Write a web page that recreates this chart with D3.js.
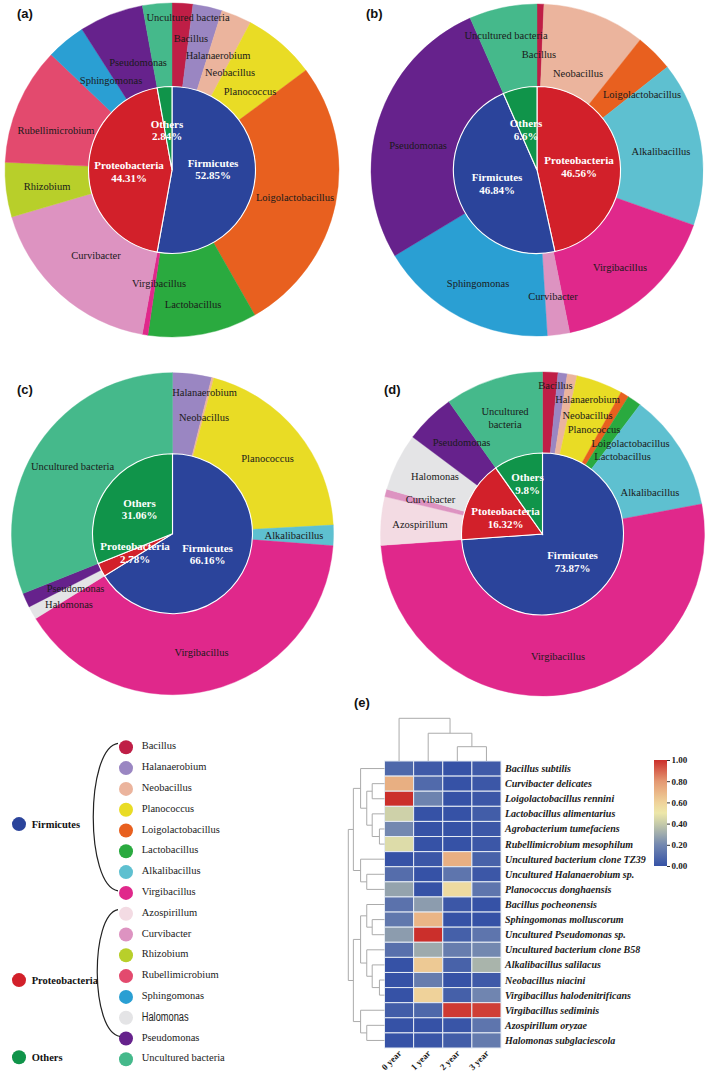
<!DOCTYPE html>
<html><head><meta charset="utf-8">
<script src="https://cdn.jsdelivr.net/npm/d3@7"></script>
<style>body{margin:0;background:#fff} svg{display:block}</style>
</head><body>
<svg id="chart" width="709" height="1079"></svg>
<script>
// ================= DATA =================
const phyla = ["Firmicutes", "Proteobacteria", "Others"];
const phylaColors = ["#2b449b", "#d2202a", "#10944a"];
const genera = ["Bacillus","Halanaerobium","Neobacillus","Planococcus","Loigolactobacillus","Lactobacillus","Alkalibacillus","Virgibacillus","Azospirillum","Curvibacter","Rhizobium","Rubellimicrobium","Sphingomonas","Halomonas","Pseudomonas","Uncultured bacteria"];
const generaPhylum = [0,0,0,0,0,0,0,0,1,1,1,1,1,1,1,2];
const generaColors = ["#bf1e46","#9a86c2","#ebb49d","#e9dc25","#e8601f","#2aaa3f","#5ec0d0","#e0288b","#f3dbe3","#dd93c1","#b8cf2a","#e34a6e","#2a9fd3","#e4e4e6","#66228c","#45b98b"];

// panel (a)
const aInnerNames = ["Firmicutes","Proteobacteria","Others"];
const aInnerValues = [52.85, 44.31, 2.84];
const aOuterNames = ["Bacillus","Halanaerobium","Neobacillus","Planococcus","Loigolactobacillus","Lactobacillus","Virgibacillus","Curvibacter","Rhizobium","Rubellimicrobium","Sphingomonas","Pseudomonas","Uncultured bacteria"];
const aOuterValues = [2.01, 2.83, 2.94, 7.03, 26.94, 10.56, 0.54, 17.61, 5.28, 11.39, 3.81, 6.22, 2.84];

// panel (b)
const bInnerNames = ["Proteobacteria","Firmicutes","Others"];
const bInnerValues = [46.56, 46.84, 6.6];
const bOuterNames = ["Bacillus","Neobacillus","Loigolactobacillus","Alkalibacillus","Virgibacillus","Curvibacter","Sphingomonas","Pseudomonas","Uncultured bacteria"];
const bOuterValues = [0.67, 10.0, 3.69, 16.03, 16.45, 2.17, 17.36, 27.03, 6.6];

// panel (c)
const cInnerNames = ["Firmicutes","Proteobacteria","Others"];
const cInnerValues = [66.16, 2.78, 31.06];
const cOuterNames = ["Halanaerobium","Neobacillus","Planococcus","Alkalibacillus","Virgibacillus","Halomonas","Pseudomonas","Uncultured bacteria"];
const cOuterValues = [3.92, 0.22, 20.0, 2.06, 39.96, 1.33, 1.45, 31.06];

// panel (d)
const dInnerNames = ["Firmicutes","Ptoteobacteria","Others"];
const dInnerValues = [73.87, 16.32, 9.8];
const dOuterNames = ["Bacillus","Halanaerobium","Neobacillus","Planococcus","Loigolactobacillus","Lactobacillus","Alkalibacillus","Virgibacillus","Azospirillum","Curvibacter","Halomonas","Pseudomonas","Uncultured bacteria"];
const dOuterValues = [1.53, 0.92, 0.97, 4.64, 0.83, 1.39, 11.75, 51.84, 4.83, 0.75, 5.75, 4.99, 9.8];

// panel (e) heatmap
const hmCols = ["0 year","1 year","2 year","3 year"];
const hmRows = ["Bacillus subtilis","Curvibacter delicates","Loigolactobacillus rennini","Lactobacillus alimentarius","Agrobacterium tumefaciens","Rubellimicrobium mesophilum","Uncultured bacterium clone TZ39","Uncultured Halanaerobium sp.","Planococcus donghaensis","Bacillus pocheonensis","Sphingomonas molluscorum","Uncultured Pseudomonas sp.","Uncultured bacterium clone B58","Alkalibacillus salilacus","Neobacillus niacini","Virgibacillus halodenitrificans","Virgibacillus sediminis","Azospirillum oryzae","Halomonas subglaciescola"];
const hmValues = [
  [0.08, 0.03, 0.00, 0.03],
  [0.72, 0.09, 0.00, 0.02],
  [1.00, 0.18, 0.00, 0.02],
  [0.42, 0.00, 0.00, 0.04],
  [0.20, 0.00, 0.00, 0.02],
  [0.46, 0.00, 0.00, 0.02],
  [0.00, 0.02, 0.72, 0.06],
  [0.10, 0.00, 0.13, 0.02],
  [0.28, 0.00, 0.56, 0.13],
  [0.12, 0.26, 0.02, 0.00],
  [0.14, 0.70, 0.00, 0.00],
  [0.26, 1.00, 0.05, 0.13],
  [0.11, 0.30, 0.16, 0.20],
  [0.00, 0.63, 0.06, 0.33],
  [0.00, 0.16, 0.00, 0.03],
  [0.00, 0.60, 0.05, 0.19],
  [0.04, 0.08, 0.98, 0.97],
  [0.00, 0.00, 0.01, 0.13],
  [0.00, 0.01, 0.04, 0.15]
];
// dendrograms: [level, left, right]; leaves are indices
const rowTree = [6, [5, [4, 0, [3, [2, 1, 2], [2, 3, [1, 4, 5]]]], [4, 6, [3, 7, 8]]],
                    [5, [4, [3, 9, [2, 10, 11]], [3, 12, [2, 13, [1, 14, 15]]]], [4, 16, [3, 17, 18]]]];
const rowLevelHeights = [0, 0.14, 0.34, 0.49, 0.66, 0.86, 1.0];
const colTree = [3, 0, [2, 1, [1, 2, 3]]];
const colLevelHeights = [0, 0.335, 0.65, 1.0];
const cbTicks = [0, 0.2, 0.4, 0.6, 0.8, 1.0];

// ================= LAYOUT (label placement, relative to donut centre) =================
const aLabelPos = {"Uncultured bacteria":[16,-153],"Bacillus":[19,-132],"Halanaerobium":[46,-115],"Neobacillus":[58,-98],"Planococcus":[78,-79],"Loigolactobacillus":[123,27],"Lactobacillus":[21,134],"Virgibacillus":[-13,113],"Curvibacter":[-76,85],"Rhizobium":[-125,16],"Rubellimicrobium":[-116,-40],"Sphingomonas":[-61,-90],"Pseudomonas":[-34,-108]};
const aInnerPos = [[41,-0.5],[-43,2],[-5,-39.5]];
const bLabelPos = {"Uncultured bacteria":[-31,-135],"Bacillus":[2,-116],"Neobacillus":[41,-97],"Loigolactobacillus":[105,-76],"Alkalibacillus":[124,-19],"Virgibacillus":[83,97],"Curvibacter":[16,126],"Sphingomonas":[-59,113],"Pseudomonas":[-119,-25]};
const bInnerPos = [[42,-3],[-40,14],[-11,-40]];
const cLabelPos = {"Halanaerobium":[32,-141],"Neobacillus":[31.5,-116],"Planococcus":[95,-75],"Alkalibacillus":[121.5,2],"Virgibacillus":[29,119],"Halomonas":[-103.5,71],"Pseudomonas":[-97,55],"Uncultured bacteria":[-100,-67]};
const cInnerPos = [[35,21],[-37.5,19.5],[-33,-24]];
const dLabelPos = {"Bacillus":[13,-149],"Halanaerobium":[45,-135],"Neobacillus":[45,-119],"Planococcus":[51.5,-105],"Loigolactobacillus":[88,-91],"Lactobacillus":[80,-78],"Alkalibacillus":[107.5,-42],"Virgibacillus":[15.5,122],"Azospirillum":[-122.5,-10],"Curvibacter":[-112,-35],"Halomonas":[-107.5,-58],"Pseudomonas":[-81,-92],"Uncultured bacteria":[-37.5,-116]};
const dInnerPos = [[30,28],[-37,-16],[-15,-50]];
const dLabelText = {"Uncultured bacteria":["Uncultured","bacteria"]};

const panels = [
  {tag:"(a)", tagX:17, tagY:18, cx:172, cy:170, rOut:167, rIn:83.5, iN:aInnerNames, iV:aInnerValues, oN:aOuterNames, oV:aOuterValues, lp:aLabelPos, ip:aInnerPos, lt:{}},
  {tag:"(b)", tagX:366, tagY:18, cx:537, cy:170, rOut:166, rIn:83.5, iN:bInnerNames, iV:bInnerValues, oN:bOuterNames, oV:bOuterValues, lp:bLabelPos, ip:bInnerPos, lt:{}},
  {tag:"(c)", tagX:17, tagY:394, cx:172.5, cy:533.7, rOut:161, rIn:80, iN:cInnerNames, iV:cInnerValues, oN:cOuterNames, oV:cOuterValues, lp:cLabelPos, ip:cInnerPos, lt:{}},
  {tag:"(d)", tagX:384, tagY:394, cx:542.5, cy:534, rOut:162, rIn:81, iN:dInnerNames, iV:dInnerValues, oN:dOuterNames, oV:dOuterValues, lp:dLabelPos, ip:dInnerPos, lt:dLabelText}
];

// ================= DRAW =================
const svg = d3.select("#chart");
const SERIF = "'Times New Roman','Liberation Serif','DejaVu Serif',serif";
const SANS = "Arial,'Liberation Sans',sans-serif";

const colorOf = d3.scaleOrdinal()
  .domain(genera.concat(phyla, ["Ptoteobacteria"]))
  .range(generaColors.concat(phylaColors, [phylaColors[1]]));

const pie = d3.pie().sort(null).value(d => d.v);

panels.forEach(p => {
  const g = svg.append("g").attr("transform", `translate(${p.cx},${p.cy})`);
  const outerData = pie(p.oN.map((n, i) => ({n, v: p.oV[i]})));
  const innerData = pie(p.iN.map((n, i) => ({n, v: p.iV[i]})));
  const arcOut = d3.arc().innerRadius(p.rIn).outerRadius(p.rOut);
  const arcIn = d3.arc().innerRadius(0).outerRadius(p.rIn);

  g.selectAll("path.o").data(outerData).join("path")
    .attr("class", "o").attr("d", arcOut)
    .attr("fill", d => colorOf(d.data.n))
    .attr("stroke", d => colorOf(d.data.n)).attr("stroke-width", 0.4);

  g.selectAll("path.i").data(innerData).join("path")
    .attr("class", "i").attr("d", arcIn)
    .attr("fill", d => colorOf(d.data.n))
    .attr("stroke", "#ffffff").attr("stroke-width", 1.1);

  // outer labels
  outerData.forEach(d => {
    const pos = p.lp[d.data.n];
    if (!pos) return;
    const lines = p.lt[d.data.n] || [d.data.n];
    const t = g.append("text")
      .attr("x", pos[0]).attr("y", pos[1])
      .attr("text-anchor", "middle")
      .attr("font-family", SERIF).attr("font-size", 10.5).attr("fill", "#1a1a1a");
    lines.forEach((ln, k) => {
      t.append("tspan").attr("x", pos[0])
        .attr("dy", k === 0 ? (lines.length === 1 ? "0.35em" : (-(lines.length - 1) * 0.6 + 0.35) + "em") : "1.2em")
        .text(ln);
    });
  });

  // inner labels
  innerData.forEach((d, i) => {
    const pos = p.ip[i];
    const t = g.append("text")
      .attr("x", pos[0]).attr("y", pos[1])
      .attr("text-anchor", "middle")
      .attr("font-family", SERIF).attr("font-weight", "bold")
      .attr("font-size", 11).attr("fill", "#ffffff");
    t.append("tspan").attr("x", pos[0]).attr("dy", "-0.25em").text(d.data.n);
    t.append("tspan").attr("x", pos[0]).attr("dy", "1.13em").text(d.data.v + "%");
  });

  svg.append("text").attr("x", p.tagX).attr("y", p.tagY)
    .attr("font-family", SANS).attr("font-weight", "bold").attr("font-size", 13)
    .attr("fill", "#111").text(p.tag);
});

// ---------------- Legend ----------------
const legG = svg.append("g");
const legY = d3.scaleLinear().domain([0, genera.length - 1]).range([747.3, 1059.3]);
const legGX = 126, legPX = 19, legR = 7;
genera.forEach((n, i) => {
  legG.append("circle").attr("cx", legGX).attr("cy", legY(i)).attr("r", legR).attr("fill", generaColors[i]);
  const t = legG.append("text").attr("x", 141.7).attr("y", legY(i) - 1.5)
    .attr("dominant-baseline", "central").attr("fill", "#222").text(n);
  if (n === "Halomonas") {
    t.attr("font-family", "'Liberation Sans Narrow','Arial Narrow','Liberation Sans',sans-serif")
      .attr("font-size", 12.5).attr("y", legY(i) - 0.5)
      .attr("textLength", 47).attr("lengthAdjust", "spacingAndGlyphs");
  } else {
    t.attr("font-family", SERIF).attr("font-size", 10.5);
  }
});
phyla.forEach((ph, k) => {
  const idx = generaPhylum.map((v, i) => v === k ? i : -1).filter(i => i >= 0);
  const y0 = legY(idx[0]), y1 = legY(idx[idx.length - 1]);
  const cy = idx.length > 1 ? (y0 + y1) / 2 + 4 : y0 - 2;
  legG.append("circle").attr("cx", legPX).attr("cy", cy).attr("r", legR).attr("fill", phylaColors[k]);
  legG.append("text").attr("x", 31.7).attr("y", cy)
    .attr("dominant-baseline", "central")
    .attr("font-family", SERIF).attr("font-weight", "bold").attr("font-size", 10.5)
    .attr("fill", "#111").text(ph);
  if (idx.length > 1) {
    const top = y0 - 4, bot = y1 - 2, xr = legGX - 8;
    const cxCtl = k === 0 ? 85 : 90;
    const path = d3.path();
    path.moveTo(xr, top);
    path.bezierCurveTo(cxCtl, top + 5, cxCtl, bot - 5, xr + (k === 1 ? 2 : 0), bot);
    legG.append("path").attr("d", path.toString()).attr("fill", "none")
      .attr("stroke", "#222").attr("stroke-width", 1.2);
  }
});

// ---------------- Heatmap ----------------
const hmLeft = 384.5, hmRight = 501, hmTop = 761, hmBottom = 1048;
const xS = d3.scaleBand().domain(hmCols).range([hmLeft, hmRight]);
const yS = d3.scaleBand().domain(hmRows).range([hmTop, hmBottom]);
const heat = d3.scaleLinear()
  .domain([0, 0.2, 0.4, 0.5, 0.6, 0.8, 1.0])
  .range(["#3652a6", "#7388b0", "#c6cba9", "#ede7a9", "#efd29a", "#e49872", "#cb2f2b"])
  .interpolate(d3.interpolateRgb);

const hmG = svg.append("g");
hmRows.forEach((r, i) => {
  hmCols.forEach((c, j) => {
    hmG.append("rect")
      .attr("x", xS(c)).attr("y", yS(r))
      .attr("width", xS.bandwidth()).attr("height", yS.bandwidth())
      .attr("fill", heat(hmValues[i][j]))
      .attr("stroke", "#e6ecf4").attr("stroke-width", 1);
  });
  hmG.append("text").attr("x", 505).attr("y", yS(r) + yS.bandwidth() / 2)
    .attr("dominant-baseline", "central")
    .attr("font-family", SERIF).attr("font-weight", "bold").attr("font-style", "italic")
    .attr("font-size", 10).attr("fill", "#1a1a1a").text(r);
});
hmCols.forEach(c => {
  const x = xS(c) + xS.bandwidth() / 2 + 3;
  hmG.append("text").attr("transform", `translate(${x},1054) rotate(-45)`)
    .attr("text-anchor", "end")
    .attr("font-family", SERIF).attr("font-weight", "bold").attr("font-size", 9)
    .attr("fill", "#1a1a1a").text(c);
});

// dendrograms
const dendroColor = "#ababab";
const rowH = d3.scaleLinear().domain([0, 1]).range([hmLeft, hmLeft - 36.2]);
const colH = d3.scaleLinear().domain([0, 1]).range([hmTop, hmTop - 42.7]);
function drawRowTree(node) {
  if (typeof node === "number") return {pos: yS(hmRows[node]) + yS.bandwidth() / 2, h: 0};
  const a = drawRowTree(node[1]), b = drawRowTree(node[2]);
  const h = rowLevelHeights[node[0]];
  const p = d3.path();
  p.moveTo(rowH(a.h), a.pos); p.lineTo(rowH(h), a.pos); p.lineTo(rowH(h), b.pos); p.lineTo(rowH(b.h), b.pos);
  hmG.append("path").attr("d", p.toString()).attr("fill", "none").attr("stroke", dendroColor).attr("stroke-width", 1);
  return {pos: (a.pos + b.pos) / 2, h};
}
function drawColTree(node) {
  if (typeof node === "number") return {pos: xS(hmCols[node]) + xS.bandwidth() / 2, h: 0};
  const a = drawColTree(node[1]), b = drawColTree(node[2]);
  const h = colLevelHeights[node[0]];
  const p = d3.path();
  p.moveTo(a.pos, colH(a.h)); p.lineTo(a.pos, colH(h)); p.lineTo(b.pos, colH(h)); p.lineTo(b.pos, colH(b.h));
  hmG.append("path").attr("d", p.toString()).attr("fill", "none").attr("stroke", dendroColor).attr("stroke-width", 1);
  return {pos: (a.pos + b.pos) / 2, h};
}
drawRowTree(rowTree);
drawColTree(colTree);

// colour bar
const cbX = 654, cbW = 13;
const cbY = d3.scaleLinear().domain([0, 1]).range([866, 760]);
const defs = svg.append("defs");
const grad = defs.append("linearGradient").attr("id", "cbgrad").attr("x1", 0).attr("y1", 1).attr("x2", 0).attr("y2", 0);
d3.range(0, 1.0001, 0.05).forEach(v => grad.append("stop").attr("offset", v).attr("stop-color", heat(v)));
hmG.append("rect").attr("x", cbX).attr("y", cbY(1)).attr("width", cbW).attr("height", cbY(0) - cbY(1)).attr("fill", "url(#cbgrad)");
const cbAxis = d3.axisRight(cbY).tickValues(cbTicks).tickFormat(d3.format(".2f")).tickSize(3).tickPadding(1.5);
const axG = hmG.append("g").attr("transform", `translate(${cbX + cbW},0)`).call(cbAxis);
axG.select(".domain").remove();
axG.selectAll("line").attr("stroke", "#333");
axG.selectAll("text").attr("font-family", SERIF).attr("font-weight", "bold").attr("font-size", 9).attr("fill", "#1a1a1a");

svg.append("text").attr("x", 354).attr("y", 707)
  .attr("font-family", SANS).attr("font-weight", "bold").attr("font-size", 13)
  .attr("fill", "#111").text("(e)");
</script>
</body></html>
